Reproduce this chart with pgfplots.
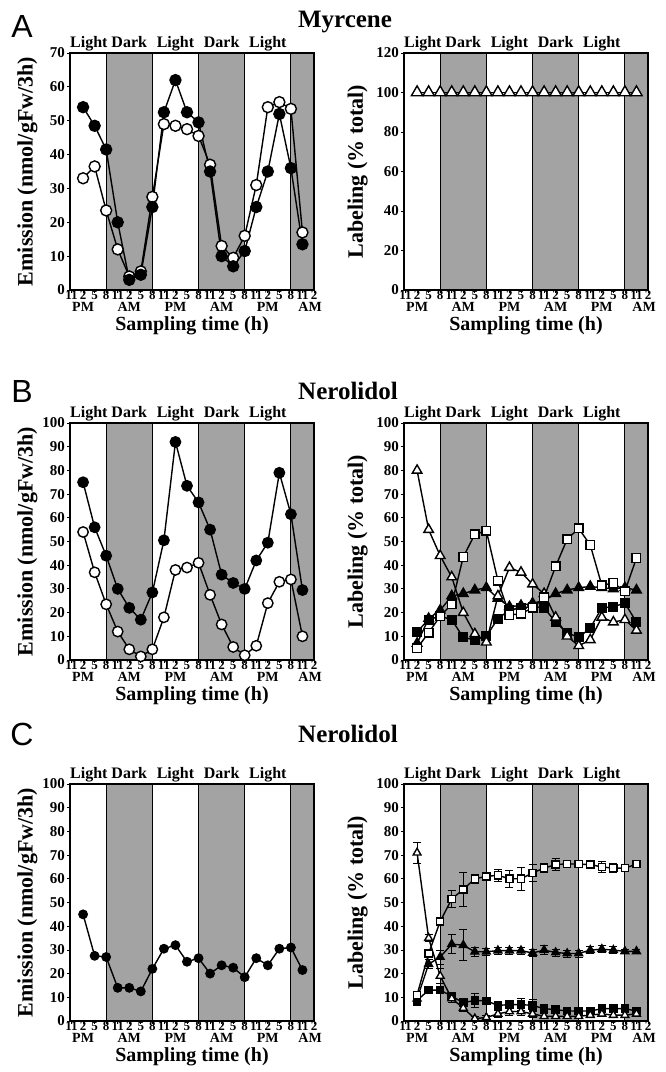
\documentclass[border=0pt]{standalone}
\usepackage{fontspec}
\setmainfont{Liberation Serif}
\newfontfamily\panelfont{Liberation Sans}
\usepackage{pgfplots}
\pgfplotsset{compat=1.18}

\definecolor{dark}{gray}{0.64}

\pgfplotsset{
  panel/.style={
    scale only axis, width=244pt, height=237pt,
    xmin=-0.4, xmax=63, ymin=0,
    clip=false, axis on top,
    axis line style={line width=1.3pt},
    every tick/.style={black, line width=0.8pt},
    major tick length=3pt, tick align=outside,
    xtick pos=bottom, ytick pos=left,
    xtick={0,3,...,63},
    xticklabels={11,2,5,8,11,2,5,8,11,2,5,8,11,2,5,8,11,2,5,8,11,2},
    every x tick label/.append style={font=\fontsize{13}{13}\selectfont\bfseries, inner sep=0.5pt, yshift=2.5pt},
    every y tick label/.append style={font=\fontsize{15}{15}\selectfont\bfseries, inner sep=2pt},
    /pgf/number format/assume math mode=true,
    xlabel={Sampling time (h)},
    xlabel style={font=\fontsize{20}{20}\selectfont\bfseries,
      at={(axis description cs:0.5,-0.152)}, anchor=center},
    ylabel style={font=\fontsize{22}{22}\selectfont\bfseries, anchor=center},
  },
  leftpanel/.style={panel, ylabel={Emission (nmol/gFw/3h)},
    ylabel style={at={(axis description cs:-0.175,0.5)}}},
  rightpanel/.style={panel, ylabel={Labeling (\% total)},
    ylabel style={at={(axis description cs:-0.19,0.5)}}},
  band/.style={fill=dark, draw=black, line width=1.1pt, mark=none},
  ln/.style={black, line width=1.4pt, mark options={line width=1pt, solid}},
  fc/.style={ln, mark=*, mark options={fill=black}},
  oc/.style={ln, mark=*, mark options={fill=white}},
  ft/.style={ln, mark=triangle*, mark options={fill=black}},
  ot/.style={ln, mark=triangle*, mark options={fill=white}},
  fs/.style={ln, mark=square*, mark options={fill=black}},
  os/.style={ln, mark=square*, mark options={fill=white}},
  eb/.style={error bars/.cd, y dir=both, y explicit,
    error bar style={line width=0.8pt, black},
    error mark options={rotate=90, mark size=4pt, line width=0.8pt, black}},
}

\newcommand{\bands}[1]{%
  \addplot[band] coordinates {(9,0) (9,#1) (21,#1) (21,0)} -- cycle;
  \addplot[band] coordinates {(33,0) (33,#1) (45,#1) (45,0)} -- cycle;
  \addplot[band] coordinates {(57,0) (57,#1) (63,#1) (63,0)} -- cycle;
  \node[anchor=base, yshift=5pt, font=\fontsize{16}{16}\selectfont\bfseries] at (axis cs:4.5,#1) {Light};
  \node[anchor=base, yshift=5pt, font=\fontsize{16}{16}\selectfont\bfseries] at (axis cs:15,#1) {Dark};
  \node[anchor=base, yshift=5pt, font=\fontsize{16}{16}\selectfont\bfseries] at (axis cs:27,#1) {Light};
  \node[anchor=base, yshift=5pt, font=\fontsize{16}{16}\selectfont\bfseries] at (axis cs:39,#1) {Dark};
  \node[anchor=base, yshift=5pt, font=\fontsize{16}{16}\selectfont\bfseries] at (axis cs:51,#1) {Light};
  \node[anchor=north, yshift=-12.5pt, inner sep=0pt, font=\fontsize{14}{14}\selectfont\bfseries] at (axis cs:3,0) {PM};
  \node[anchor=north, yshift=-12.5pt, inner sep=0pt, font=\fontsize{14}{14}\selectfont\bfseries] at (axis cs:15,0) {AM};
  \node[anchor=north, yshift=-12.5pt, inner sep=0pt, font=\fontsize{14}{14}\selectfont\bfseries] at (axis cs:27,0) {PM};
  \node[anchor=north, yshift=-12.5pt, inner sep=0pt, font=\fontsize{14}{14}\selectfont\bfseries] at (axis cs:39,0) {AM};
  \node[anchor=north, yshift=-12.5pt, inner sep=0pt, font=\fontsize{14}{14}\selectfont\bfseries] at (axis cs:51,0) {PM};
  \node[anchor=north, yshift=-12.5pt, inner sep=0pt, font=\fontsize{14}{14}\selectfont\bfseries] at (axis cs:62,0) {AM};
}

\begin{document}
\begin{tikzpicture}
\path[use as bounding box] (0,0) rectangle (665pt,1072pt);

% titles and panel letters
\node[font=\fontsize{25}{25}\selectfont\bfseries] at (345pt,1050pt) {Myrcene};
\node[font=\fontsize{25}{25}\selectfont\bfseries] at (348pt,681pt) {Nerolidol};
\node[font=\fontsize{25}{25}\selectfont\bfseries] at (348pt,338pt) {Nerolidol};
\node[font=\panelfont\fontsize{32}{32}\selectfont] at (22pt,1045pt) {A};
\node[font=\panelfont\fontsize{32}{32}\selectfont] at (22pt,681pt) {B};
\node[font=\panelfont\fontsize{32}{32}\selectfont] at (22pt,338pt) {C};

% ---- A left: myrcene emission
\begin{axis}[leftpanel, at={(70pt,782pt)}, anchor=south west,
  ymax=70, ytick={0,10,...,70}, mark size=5.5pt]
\bands{70}
\addplot[oc] coordinates {(3,33)(6,36.5)(9,23.5)(12,12)(15,4)(18,5.5)(21,27.5)(24,49)(27,48.5)(30,47.5)
  (33,45.5)(36,37)(39,13)(42,9.5)(45,16)(48,31)(51,54)(54,55.5)(57,53.5)(60,17)};
\addplot[fc] coordinates {(3,54)(6,48.5)(9,41.5)(12,20)(15,3)(18,4.5)(21,24.5)(24,52.5)(27,62)(30,52.5)
  (33,49.5)(36,35)(39,10)(42,7)(45,11.5)(48,24.5)(51,35)(54,52)(57,36)(60,13.5)};
\end{axis}

% ---- A right: myrcene labeling
\begin{axis}[rightpanel, at={(404pt,782pt)}, anchor=south west,
  ymax=120, ytick={0,20,...,120}, mark size=6.6pt]
\bands{120}
\addplot[ot] coordinates {(3,100)(6,100)(9,100)(12,100)(15,100)(18,100)(21,100)(24,100)(27,100)(30,100)
  (33,100)(36,100)(39,100)(42,100)(45,100)(48,100)(51,100)(54,100)(57,100)(60,100)};
\end{axis}

% ---- B left: nerolidol emission
\begin{axis}[leftpanel, at={(70pt,412pt)}, anchor=south west,
  ymax=100, ytick={0,10,...,100}, mark size=5.2pt]
\bands{100}
\addplot[oc] coordinates {(3,54)(6,37)(9,23.5)(12,12)(15,4.5)(18,1.5)(21,4.5)(24,18)(27,38)(30,39)
  (33,41)(36,27.5)(39,15)(42,5.5)(45,2)(48,6)(51,24)(54,33)(57,34)(60,10)};
\addplot[fc] coordinates {(3,75)(6,56)(9,44)(12,30)(15,22)(18,17)(21,28.5)(24,50.5)(27,92)(30,73.5)
  (33,66.5)(36,55)(39,36)(42,32.5)(45,30)(48,42)(51,49.5)(54,79)(57,61.5)(60,29.5)};
\end{axis}

% ---- B right: nerolidol labeling
\begin{axis}[rightpanel, at={(404pt,412pt)}, anchor=south west,
  ymax=100, ytick={0,10,...,100}]
\bands{100}
\addplot[fs, mark size=4.3pt] coordinates {(3,12)(6,17)(9,18.5)(12,17)(15,9.5)(18,8.5)(21,10)(24,17.5)(27,21)(30,22)
  (33,22.5)(36,22)(39,16)(42,11.5)(45,9.5)(48,13.5)(51,22)(54,22.5)(57,24)(60,16)};
\addplot[ft, mark size=5.5pt] coordinates {(3,7)(6,17.5)(9,21)(12,27)(15,28)(18,29.5)(21,30.5)(24,26)(27,22.5)(30,23)
  (33,24)(36,25)(39,28)(42,29.5)(45,30.5)(48,31)(51,30.5)(54,30)(57,30.5)(60,29.5)};
\addplot[ot, mark size=5.5pt] coordinates {(3,80)(6,55)(9,44)(12,35)(15,20)(18,11)(21,7.5)(24,27)(27,39)(30,37)
  (33,32)(36,28)(39,18)(42,10)(45,6)(48,8.5)(51,18)(54,16)(57,17)(60,12.5)};
\addplot[os, mark size=4.3pt] coordinates {(3,5)(6,11.5)(9,18.5)(12,23.5)(15,43.5)(18,53)(21,54.5)(24,33.5)(27,19)(30,19.5)
  (33,22)(36,26.5)(39,39.5)(42,51)(45,55.5)(48,48.5)(51,31.5)(54,32.5)(57,29)(60,43)};
\end{axis}

% ---- C left: nerolidol emission
\begin{axis}[leftpanel, at={(70pt,51pt)}, anchor=south west,
  ymax=100, ytick={0,10,...,100}, mark size=4.2pt]
\bands{100}
\addplot[fc] coordinates {(3,45)(6,27.5)(9,27)(12,14)(15,14)(18,12.5)(21,22)(24,30.5)(27,32)(30,25)
  (33,26.5)(36,20)(39,23.5)(42,22.5)(45,18.5)(48,26.5)(51,23.5)(54,30.5)(57,31)(60,21.5)};
\end{axis}

% ---- C right: nerolidol labeling with error bars
\begin{axis}[rightpanel, at={(404pt,51pt)}, anchor=south west,
  ymax=100, ytick={0,10,...,100}]
\bands{100}
\addplot[fs, mark size=3.6pt, eb] coordinates {
  (3,8.7) +- (0,2) (6,13) +- (0,1.5) (9,13) +- (0,1.5) (12,10.5) +- (0,1.5) (15,7.7) +- (0,1.5)
  (18,8.7) +- (0,3) (21,8.5) +- (0,1.5) (24,6.6) +- (0,1.5) (27,6.9) +- (0,1.5) (30,6.9) +- (0,2.5)
  (33,6.6) +- (0,2.5) (36,5.2) +- (0,1.5) (39,4.8) +- (0,1.5) (42,4.2) +- (0,1) (45,4.2) +- (0,1)
  (48,4.2) +- (0,1) (51,5.2) +- (0,1) (54,5.2) +- (0,1) (57,5.2) +- (0,1) (60,4.2) +- (0,1)};
\addplot[ft, mark size=4.5pt, eb] coordinates {
  (3,9.4) +- (0,1.5) (6,24) +- (0,2) (9,27) +- (0,3) (12,32.4) +- (0,4) (15,32) +- (0,6.5)
  (18,29.2) +- (0,2) (21,29.2) +- (0,1.5) (24,29.7) +- (0,1.5) (27,29.7) +- (0,1.5) (30,29.7) +- (0,1.5)
  (33,28.7) +- (0,1.5) (36,29.9) +- (0,2) (39,28.9) +- (0,1.5) (42,28.5) +- (0,1.5) (45,28.5) +- (0,1.5)
  (48,29.9) +- (0,1.5) (51,30.3) +- (0,1.5) (54,29.9) +- (0,1.5) (57,29.4) +- (0,1) (60,29.4) +- (0,1)};
\addplot[ot, mark size=4.5pt, eb] coordinates {
  (3,71) +- (0,4.5) (6,35) +- (0,1.5) (9,19) +- (0,3) (12,9.5) +- (0,1.5) (15,5.5) +- (0,1.5)
  (18,1) +- (0,1) (21,1.5) +- (0,1) (24,3) +- (0,1.5) (27,4) +- (0,1.5) (30,4) +- (0,1.5)
  (33,3) +- (0,1.5) (36,2) +- (0,1) (39,2) +- (0,1) (42,2) +- (0,1) (45,2) +- (0,1)
  (48,2.5) +- (0,1) (51,3) +- (0,1) (54,2.5) +- (0,1) (57,2.5) +- (0,1) (60,3) +- (0,1)};
\addplot[os, mark size=3.6pt, eb] coordinates {
  (3,11) +- (0,1.5) (6,28.5) +- (0,1.5) (9,42) +- (0,1.5) (12,51.5) +- (0,3.5) (15,55.5) +- (0,7)
  (18,60) +- (0,2) (21,61) +- (0,1.5) (24,61.5) +- (0,2.5) (27,60) +- (0,3.5) (30,60) +- (0,5)
  (33,62.5) +- (0,3.5) (36,64.5) +- (0,2) (39,66) +- (0,2.5) (42,66.3) +- (0,1.5) (45,66.2) +- (0,1)
  (48,66) +- (0,1.5) (51,65) +- (0,2.5) (54,64.5) +- (0,2) (57,64.5) +- (0,1) (60,66.2) +- (0,1)};
\end{axis}
\end{tikzpicture}
\end{document}
